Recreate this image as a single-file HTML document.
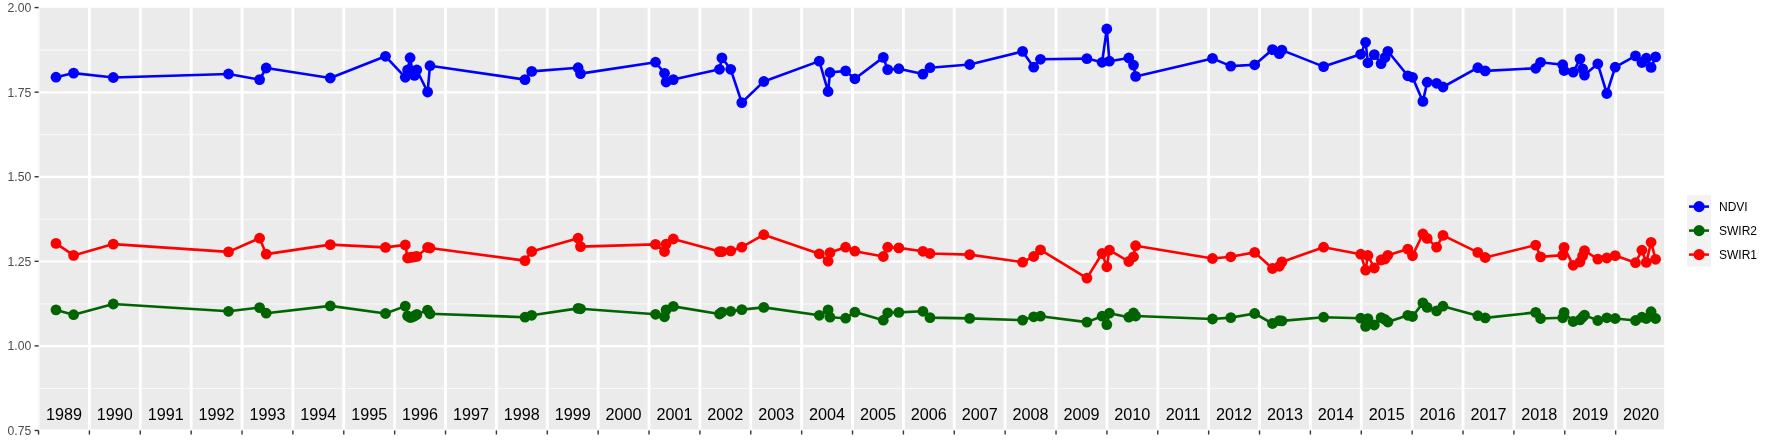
<!DOCTYPE html>
<html><head><meta charset="utf-8"><title>Chart</title>
<style>html,body{margin:0;padding:0;background:#fff;overflow:hidden;}svg{display:block;will-change:transform;}</style>
</head><body>
<svg width="1773" height="442" viewBox="0 0 1773 442"><rect x="0" y="0" width="1773" height="442" fill="#FFFFFF"/>
<rect x="37.8" y="7.8" width="2.1" height="421.80" fill="#F8F8F8"/>
<rect x="39.9" y="7.8" width="1624.20" height="421.80" fill="#EBEBEB"/>
<clipPath id="pc"><rect x="39.9" y="7.8" width="1624.20" height="421.80"/></clipPath>
<g clip-path="url(#pc)"><line x1="39.9" x2="1664.1" y1="50.16" y2="50.16" stroke="#FFFFFF" stroke-width="1.0" stroke-opacity="0.75"/><line x1="39.9" x2="1664.1" y1="134.75" y2="134.75" stroke="#FFFFFF" stroke-width="1.0" stroke-opacity="0.75"/><line x1="39.9" x2="1664.1" y1="219.34" y2="219.34" stroke="#FFFFFF" stroke-width="1.0" stroke-opacity="0.75"/><line x1="39.9" x2="1664.1" y1="303.92" y2="303.92" stroke="#FFFFFF" stroke-width="1.0" stroke-opacity="0.75"/><line x1="39.9" x2="1664.1" y1="388.51" y2="388.51" stroke="#FFFFFF" stroke-width="1.0" stroke-opacity="0.75"/><line x1="39.9" x2="1664.1" y1="92.31" y2="92.31" stroke="#FFFFFF" stroke-width="2.2"/><line x1="39.9" x2="1664.1" y1="176.89" y2="176.89" stroke="#FFFFFF" stroke-width="2.2"/><line x1="39.9" x2="1664.1" y1="261.48" y2="261.48" stroke="#FFFFFF" stroke-width="2.2"/><line x1="39.9" x2="1664.1" y1="346.06" y2="346.06" stroke="#FFFFFF" stroke-width="2.2"/><line x1="39.9" x2="1664.1" y1="430.65" y2="430.65" stroke="#FFFFFF" stroke-width="2.2"/><line x1="38.53" x2="38.53" y1="7.8" y2="429.6" stroke="#FFFFFF" stroke-width="2.9"/><line x1="89.40" x2="89.40" y1="7.8" y2="429.6" stroke="#FFFFFF" stroke-width="2.9"/><line x1="140.28" x2="140.28" y1="7.8" y2="429.6" stroke="#FFFFFF" stroke-width="2.9"/><line x1="191.15" x2="191.15" y1="7.8" y2="429.6" stroke="#FFFFFF" stroke-width="2.9"/><line x1="242.03" x2="242.03" y1="7.8" y2="429.6" stroke="#FFFFFF" stroke-width="2.9"/><line x1="292.90" x2="292.90" y1="7.8" y2="429.6" stroke="#FFFFFF" stroke-width="2.9"/><line x1="343.77" x2="343.77" y1="7.8" y2="429.6" stroke="#FFFFFF" stroke-width="2.9"/><line x1="394.65" x2="394.65" y1="7.8" y2="429.6" stroke="#FFFFFF" stroke-width="2.9"/><line x1="445.52" x2="445.52" y1="7.8" y2="429.6" stroke="#FFFFFF" stroke-width="2.9"/><line x1="496.40" x2="496.40" y1="7.8" y2="429.6" stroke="#FFFFFF" stroke-width="2.9"/><line x1="547.27" x2="547.27" y1="7.8" y2="429.6" stroke="#FFFFFF" stroke-width="2.9"/><line x1="598.15" x2="598.15" y1="7.8" y2="429.6" stroke="#FFFFFF" stroke-width="2.9"/><line x1="649.02" x2="649.02" y1="7.8" y2="429.6" stroke="#FFFFFF" stroke-width="2.9"/><line x1="699.90" x2="699.90" y1="7.8" y2="429.6" stroke="#FFFFFF" stroke-width="2.9"/><line x1="750.77" x2="750.77" y1="7.8" y2="429.6" stroke="#FFFFFF" stroke-width="2.9"/><line x1="801.65" x2="801.65" y1="7.8" y2="429.6" stroke="#FFFFFF" stroke-width="2.9"/><line x1="852.52" x2="852.52" y1="7.8" y2="429.6" stroke="#FFFFFF" stroke-width="2.9"/><line x1="903.40" x2="903.40" y1="7.8" y2="429.6" stroke="#FFFFFF" stroke-width="2.9"/><line x1="954.27" x2="954.27" y1="7.8" y2="429.6" stroke="#FFFFFF" stroke-width="2.9"/><line x1="1005.15" x2="1005.15" y1="7.8" y2="429.6" stroke="#FFFFFF" stroke-width="2.9"/><line x1="1056.03" x2="1056.03" y1="7.8" y2="429.6" stroke="#FFFFFF" stroke-width="2.9"/><line x1="1106.90" x2="1106.90" y1="7.8" y2="429.6" stroke="#FFFFFF" stroke-width="2.9"/><line x1="1157.78" x2="1157.78" y1="7.8" y2="429.6" stroke="#FFFFFF" stroke-width="2.9"/><line x1="1208.65" x2="1208.65" y1="7.8" y2="429.6" stroke="#FFFFFF" stroke-width="2.9"/><line x1="1259.53" x2="1259.53" y1="7.8" y2="429.6" stroke="#FFFFFF" stroke-width="2.9"/><line x1="1310.40" x2="1310.40" y1="7.8" y2="429.6" stroke="#FFFFFF" stroke-width="2.9"/><line x1="1361.28" x2="1361.28" y1="7.8" y2="429.6" stroke="#FFFFFF" stroke-width="2.9"/><line x1="1412.15" x2="1412.15" y1="7.8" y2="429.6" stroke="#FFFFFF" stroke-width="2.9"/><line x1="1463.03" x2="1463.03" y1="7.8" y2="429.6" stroke="#FFFFFF" stroke-width="2.9"/><line x1="1513.90" x2="1513.90" y1="7.8" y2="429.6" stroke="#FFFFFF" stroke-width="2.9"/><line x1="1564.78" x2="1564.78" y1="7.8" y2="429.6" stroke="#FFFFFF" stroke-width="2.9"/><line x1="1615.65" x2="1615.65" y1="7.8" y2="429.6" stroke="#FFFFFF" stroke-width="2.9"/></g>
<g font-family="Liberation Sans, Arial, sans-serif" font-size="16.2" fill="#000000"><text x="63.96" y="420.2" text-anchor="middle">1989</text><text x="114.84" y="420.2" text-anchor="middle">1990</text><text x="165.71" y="420.2" text-anchor="middle">1991</text><text x="216.59" y="420.2" text-anchor="middle">1992</text><text x="267.46" y="420.2" text-anchor="middle">1993</text><text x="318.34" y="420.2" text-anchor="middle">1994</text><text x="369.21" y="420.2" text-anchor="middle">1995</text><text x="420.09" y="420.2" text-anchor="middle">1996</text><text x="470.96" y="420.2" text-anchor="middle">1997</text><text x="521.84" y="420.2" text-anchor="middle">1998</text><text x="572.71" y="420.2" text-anchor="middle">1999</text><text x="623.59" y="420.2" text-anchor="middle">2000</text><text x="674.46" y="420.2" text-anchor="middle">2001</text><text x="725.34" y="420.2" text-anchor="middle">2002</text><text x="776.21" y="420.2" text-anchor="middle">2003</text><text x="827.09" y="420.2" text-anchor="middle">2004</text><text x="877.96" y="420.2" text-anchor="middle">2005</text><text x="928.84" y="420.2" text-anchor="middle">2006</text><text x="979.71" y="420.2" text-anchor="middle">2007</text><text x="1030.59" y="420.2" text-anchor="middle">2008</text><text x="1081.46" y="420.2" text-anchor="middle">2009</text><text x="1132.34" y="420.2" text-anchor="middle">2010</text><text x="1183.21" y="420.2" text-anchor="middle">2011</text><text x="1234.09" y="420.2" text-anchor="middle">2012</text><text x="1284.96" y="420.2" text-anchor="middle">2013</text><text x="1335.84" y="420.2" text-anchor="middle">2014</text><text x="1386.71" y="420.2" text-anchor="middle">2015</text><text x="1437.59" y="420.2" text-anchor="middle">2016</text><text x="1488.46" y="420.2" text-anchor="middle">2017</text><text x="1539.34" y="420.2" text-anchor="middle">2018</text><text x="1590.21" y="420.2" text-anchor="middle">2019</text><text x="1641.09" y="420.2" text-anchor="middle">2020</text></g>
<polyline points="56.0,309.9 73.6,314.7 113.3,304.0 228.5,311.3 259.6,307.6 266.2,313.2 330.3,305.9 385.5,313.5 405.3,306.1 407.6,316.0 410.1,317.5 412.3,317.0 414.5,316.0 416.8,314.4 427.6,310.1 430.0,313.8 525.0,317.2 531.7,315.3 578.1,308.4 580.5,308.8 655.5,314.3 664.5,316.8 666.1,309.9 673.3,306.4 719.5,314.0 721.9,312.1 730.7,311.3 741.8,309.6 763.8,307.4 819.3,315.3 828.1,309.9 830.0,317.2 845.6,318.2 854.9,312.1 883.3,320.2 887.7,312.8 898.8,312.4 922.9,311.3 930.0,317.6 969.7,318.4 1022.6,320.1 1033.7,316.8 1040.5,316.2 1086.9,322.1 1102.1,316.2 1106.8,324.6 1109.4,313.2 1128.8,317.2 1133.5,313.0 1135.6,316.0 1212.5,319.0 1230.8,317.6 1254.7,313.5 1272.5,323.5 1279.3,320.6 1281.9,320.9 1323.6,317.2 1360.7,318.2 1365.6,326.4 1367.9,318.6 1374.3,325.0 1381.1,317.6 1385.0,319.5 1387.9,322.0 1407.8,315.3 1412.5,316.5 1422.9,302.9 1427.2,307.4 1436.6,310.9 1443.0,306.2 1477.8,315.7 1485.2,317.9 1535.7,312.4 1540.6,318.5 1562.7,317.8 1564.1,312.4 1573.2,321.5 1580.0,319.9 1582.6,317.2 1584.5,315.1 1597.8,320.5 1606.8,317.8 1615.2,318.5 1635.5,320.5 1641.9,317.2 1646.3,318.5 1651.1,311.7 1655.6,318.5" fill="none" stroke="#006400" stroke-width="2.6" stroke-linejoin="round" stroke-linecap="butt"/><circle cx="56.0" cy="309.9" r="5.4" fill="#006400"/><circle cx="73.6" cy="314.7" r="5.4" fill="#006400"/><circle cx="113.3" cy="304.0" r="5.4" fill="#006400"/><circle cx="228.5" cy="311.3" r="5.4" fill="#006400"/><circle cx="259.6" cy="307.6" r="5.4" fill="#006400"/><circle cx="266.2" cy="313.2" r="5.4" fill="#006400"/><circle cx="330.3" cy="305.9" r="5.4" fill="#006400"/><circle cx="385.5" cy="313.5" r="5.4" fill="#006400"/><circle cx="405.3" cy="306.1" r="5.4" fill="#006400"/><circle cx="407.6" cy="316.0" r="5.4" fill="#006400"/><circle cx="410.1" cy="317.5" r="5.4" fill="#006400"/><circle cx="412.3" cy="317.0" r="5.4" fill="#006400"/><circle cx="414.5" cy="316.0" r="5.4" fill="#006400"/><circle cx="416.8" cy="314.4" r="5.4" fill="#006400"/><circle cx="427.6" cy="310.1" r="5.4" fill="#006400"/><circle cx="430.0" cy="313.8" r="5.4" fill="#006400"/><circle cx="525.0" cy="317.2" r="5.4" fill="#006400"/><circle cx="531.7" cy="315.3" r="5.4" fill="#006400"/><circle cx="578.1" cy="308.4" r="5.4" fill="#006400"/><circle cx="580.5" cy="308.8" r="5.4" fill="#006400"/><circle cx="655.5" cy="314.3" r="5.4" fill="#006400"/><circle cx="664.5" cy="316.8" r="5.4" fill="#006400"/><circle cx="666.1" cy="309.9" r="5.4" fill="#006400"/><circle cx="673.3" cy="306.4" r="5.4" fill="#006400"/><circle cx="719.5" cy="314.0" r="5.4" fill="#006400"/><circle cx="721.9" cy="312.1" r="5.4" fill="#006400"/><circle cx="730.7" cy="311.3" r="5.4" fill="#006400"/><circle cx="741.8" cy="309.6" r="5.4" fill="#006400"/><circle cx="763.8" cy="307.4" r="5.4" fill="#006400"/><circle cx="819.3" cy="315.3" r="5.4" fill="#006400"/><circle cx="828.1" cy="309.9" r="5.4" fill="#006400"/><circle cx="830.0" cy="317.2" r="5.4" fill="#006400"/><circle cx="845.6" cy="318.2" r="5.4" fill="#006400"/><circle cx="854.9" cy="312.1" r="5.4" fill="#006400"/><circle cx="883.3" cy="320.2" r="5.4" fill="#006400"/><circle cx="887.7" cy="312.8" r="5.4" fill="#006400"/><circle cx="898.8" cy="312.4" r="5.4" fill="#006400"/><circle cx="922.9" cy="311.3" r="5.4" fill="#006400"/><circle cx="930.0" cy="317.6" r="5.4" fill="#006400"/><circle cx="969.7" cy="318.4" r="5.4" fill="#006400"/><circle cx="1022.6" cy="320.1" r="5.4" fill="#006400"/><circle cx="1033.7" cy="316.8" r="5.4" fill="#006400"/><circle cx="1040.5" cy="316.2" r="5.4" fill="#006400"/><circle cx="1086.9" cy="322.1" r="5.4" fill="#006400"/><circle cx="1102.1" cy="316.2" r="5.4" fill="#006400"/><circle cx="1106.8" cy="324.6" r="5.4" fill="#006400"/><circle cx="1109.4" cy="313.2" r="5.4" fill="#006400"/><circle cx="1128.8" cy="317.2" r="5.4" fill="#006400"/><circle cx="1133.5" cy="313.0" r="5.4" fill="#006400"/><circle cx="1135.6" cy="316.0" r="5.4" fill="#006400"/><circle cx="1212.5" cy="319.0" r="5.4" fill="#006400"/><circle cx="1230.8" cy="317.6" r="5.4" fill="#006400"/><circle cx="1254.7" cy="313.5" r="5.4" fill="#006400"/><circle cx="1272.5" cy="323.5" r="5.4" fill="#006400"/><circle cx="1279.3" cy="320.6" r="5.4" fill="#006400"/><circle cx="1281.9" cy="320.9" r="5.4" fill="#006400"/><circle cx="1323.6" cy="317.2" r="5.4" fill="#006400"/><circle cx="1360.7" cy="318.2" r="5.4" fill="#006400"/><circle cx="1365.6" cy="326.4" r="5.4" fill="#006400"/><circle cx="1367.9" cy="318.6" r="5.4" fill="#006400"/><circle cx="1374.3" cy="325.0" r="5.4" fill="#006400"/><circle cx="1381.1" cy="317.6" r="5.4" fill="#006400"/><circle cx="1385.0" cy="319.5" r="5.4" fill="#006400"/><circle cx="1387.9" cy="322.0" r="5.4" fill="#006400"/><circle cx="1407.8" cy="315.3" r="5.4" fill="#006400"/><circle cx="1412.5" cy="316.5" r="5.4" fill="#006400"/><circle cx="1422.9" cy="302.9" r="5.4" fill="#006400"/><circle cx="1427.2" cy="307.4" r="5.4" fill="#006400"/><circle cx="1436.6" cy="310.9" r="5.4" fill="#006400"/><circle cx="1443.0" cy="306.2" r="5.4" fill="#006400"/><circle cx="1477.8" cy="315.7" r="5.4" fill="#006400"/><circle cx="1485.2" cy="317.9" r="5.4" fill="#006400"/><circle cx="1535.7" cy="312.4" r="5.4" fill="#006400"/><circle cx="1540.6" cy="318.5" r="5.4" fill="#006400"/><circle cx="1562.7" cy="317.8" r="5.4" fill="#006400"/><circle cx="1564.1" cy="312.4" r="5.4" fill="#006400"/><circle cx="1573.2" cy="321.5" r="5.4" fill="#006400"/><circle cx="1580.0" cy="319.9" r="5.4" fill="#006400"/><circle cx="1582.6" cy="317.2" r="5.4" fill="#006400"/><circle cx="1584.5" cy="315.1" r="5.4" fill="#006400"/><circle cx="1597.8" cy="320.5" r="5.4" fill="#006400"/><circle cx="1606.8" cy="317.8" r="5.4" fill="#006400"/><circle cx="1615.2" cy="318.5" r="5.4" fill="#006400"/><circle cx="1635.5" cy="320.5" r="5.4" fill="#006400"/><circle cx="1641.9" cy="317.2" r="5.4" fill="#006400"/><circle cx="1646.3" cy="318.5" r="5.4" fill="#006400"/><circle cx="1651.1" cy="311.7" r="5.4" fill="#006400"/><circle cx="1655.6" cy="318.5" r="5.4" fill="#006400"/>
<polyline points="56.0,243.4 73.6,255.4 113.3,244.1 228.5,251.9 259.6,238.2 266.2,254.1 330.3,244.6 385.5,247.4 405.3,244.9 407.6,258.0 410.1,257.5 412.3,257.2 414.5,256.8 416.8,256.4 427.6,247.5 430.0,248.0 525.0,260.6 531.7,251.5 578.1,238.2 580.5,246.6 655.5,244.4 664.5,251.5 666.1,244.1 673.3,239.0 719.5,251.6 721.9,251.6 730.7,250.9 741.8,247.2 763.8,234.7 819.3,253.8 828.1,261.2 830.0,252.6 845.6,247.2 854.9,251.2 883.3,256.5 887.7,247.2 898.8,247.9 922.9,251.3 930.0,253.5 969.7,254.6 1022.6,262.2 1033.7,256.5 1040.5,249.9 1086.9,278.1 1102.1,253.5 1106.8,266.8 1109.4,250.1 1128.8,261.5 1133.5,256.8 1135.6,245.7 1212.5,258.5 1230.8,256.8 1254.7,252.4 1272.5,268.5 1279.3,266.3 1281.9,261.9 1323.6,247.2 1360.7,254.2 1365.6,270.1 1367.9,255.5 1374.3,268.0 1381.1,260.0 1385.0,259.0 1387.9,255.3 1407.8,249.1 1412.5,255.6 1422.9,234.0 1427.2,238.4 1436.6,247.2 1443.0,235.4 1477.8,252.4 1485.2,257.5 1535.7,245.1 1540.6,256.9 1562.7,255.1 1564.1,247.4 1573.2,265.3 1580.0,262.0 1582.6,255.9 1584.5,250.6 1597.8,259.1 1606.8,258.0 1615.2,255.6 1635.5,262.7 1641.9,250.2 1646.3,262.4 1651.1,242.3 1655.6,259.3" fill="none" stroke="#FF0000" stroke-width="2.6" stroke-linejoin="round" stroke-linecap="butt"/><circle cx="56.0" cy="243.4" r="5.4" fill="#FF0000"/><circle cx="73.6" cy="255.4" r="5.4" fill="#FF0000"/><circle cx="113.3" cy="244.1" r="5.4" fill="#FF0000"/><circle cx="228.5" cy="251.9" r="5.4" fill="#FF0000"/><circle cx="259.6" cy="238.2" r="5.4" fill="#FF0000"/><circle cx="266.2" cy="254.1" r="5.4" fill="#FF0000"/><circle cx="330.3" cy="244.6" r="5.4" fill="#FF0000"/><circle cx="385.5" cy="247.4" r="5.4" fill="#FF0000"/><circle cx="405.3" cy="244.9" r="5.4" fill="#FF0000"/><circle cx="407.6" cy="258.0" r="5.4" fill="#FF0000"/><circle cx="410.1" cy="257.5" r="5.4" fill="#FF0000"/><circle cx="412.3" cy="257.2" r="5.4" fill="#FF0000"/><circle cx="414.5" cy="256.8" r="5.4" fill="#FF0000"/><circle cx="416.8" cy="256.4" r="5.4" fill="#FF0000"/><circle cx="427.6" cy="247.5" r="5.4" fill="#FF0000"/><circle cx="430.0" cy="248.0" r="5.4" fill="#FF0000"/><circle cx="525.0" cy="260.6" r="5.4" fill="#FF0000"/><circle cx="531.7" cy="251.5" r="5.4" fill="#FF0000"/><circle cx="578.1" cy="238.2" r="5.4" fill="#FF0000"/><circle cx="580.5" cy="246.6" r="5.4" fill="#FF0000"/><circle cx="655.5" cy="244.4" r="5.4" fill="#FF0000"/><circle cx="664.5" cy="251.5" r="5.4" fill="#FF0000"/><circle cx="666.1" cy="244.1" r="5.4" fill="#FF0000"/><circle cx="673.3" cy="239.0" r="5.4" fill="#FF0000"/><circle cx="719.5" cy="251.6" r="5.4" fill="#FF0000"/><circle cx="721.9" cy="251.6" r="5.4" fill="#FF0000"/><circle cx="730.7" cy="250.9" r="5.4" fill="#FF0000"/><circle cx="741.8" cy="247.2" r="5.4" fill="#FF0000"/><circle cx="763.8" cy="234.7" r="5.4" fill="#FF0000"/><circle cx="819.3" cy="253.8" r="5.4" fill="#FF0000"/><circle cx="828.1" cy="261.2" r="5.4" fill="#FF0000"/><circle cx="830.0" cy="252.6" r="5.4" fill="#FF0000"/><circle cx="845.6" cy="247.2" r="5.4" fill="#FF0000"/><circle cx="854.9" cy="251.2" r="5.4" fill="#FF0000"/><circle cx="883.3" cy="256.5" r="5.4" fill="#FF0000"/><circle cx="887.7" cy="247.2" r="5.4" fill="#FF0000"/><circle cx="898.8" cy="247.9" r="5.4" fill="#FF0000"/><circle cx="922.9" cy="251.3" r="5.4" fill="#FF0000"/><circle cx="930.0" cy="253.5" r="5.4" fill="#FF0000"/><circle cx="969.7" cy="254.6" r="5.4" fill="#FF0000"/><circle cx="1022.6" cy="262.2" r="5.4" fill="#FF0000"/><circle cx="1033.7" cy="256.5" r="5.4" fill="#FF0000"/><circle cx="1040.5" cy="249.9" r="5.4" fill="#FF0000"/><circle cx="1086.9" cy="278.1" r="5.4" fill="#FF0000"/><circle cx="1102.1" cy="253.5" r="5.4" fill="#FF0000"/><circle cx="1106.8" cy="266.8" r="5.4" fill="#FF0000"/><circle cx="1109.4" cy="250.1" r="5.4" fill="#FF0000"/><circle cx="1128.8" cy="261.5" r="5.4" fill="#FF0000"/><circle cx="1133.5" cy="256.8" r="5.4" fill="#FF0000"/><circle cx="1135.6" cy="245.7" r="5.4" fill="#FF0000"/><circle cx="1212.5" cy="258.5" r="5.4" fill="#FF0000"/><circle cx="1230.8" cy="256.8" r="5.4" fill="#FF0000"/><circle cx="1254.7" cy="252.4" r="5.4" fill="#FF0000"/><circle cx="1272.5" cy="268.5" r="5.4" fill="#FF0000"/><circle cx="1279.3" cy="266.3" r="5.4" fill="#FF0000"/><circle cx="1281.9" cy="261.9" r="5.4" fill="#FF0000"/><circle cx="1323.6" cy="247.2" r="5.4" fill="#FF0000"/><circle cx="1360.7" cy="254.2" r="5.4" fill="#FF0000"/><circle cx="1365.6" cy="270.1" r="5.4" fill="#FF0000"/><circle cx="1367.9" cy="255.5" r="5.4" fill="#FF0000"/><circle cx="1374.3" cy="268.0" r="5.4" fill="#FF0000"/><circle cx="1381.1" cy="260.0" r="5.4" fill="#FF0000"/><circle cx="1385.0" cy="259.0" r="5.4" fill="#FF0000"/><circle cx="1387.9" cy="255.3" r="5.4" fill="#FF0000"/><circle cx="1407.8" cy="249.1" r="5.4" fill="#FF0000"/><circle cx="1412.5" cy="255.6" r="5.4" fill="#FF0000"/><circle cx="1422.9" cy="234.0" r="5.4" fill="#FF0000"/><circle cx="1427.2" cy="238.4" r="5.4" fill="#FF0000"/><circle cx="1436.6" cy="247.2" r="5.4" fill="#FF0000"/><circle cx="1443.0" cy="235.4" r="5.4" fill="#FF0000"/><circle cx="1477.8" cy="252.4" r="5.4" fill="#FF0000"/><circle cx="1485.2" cy="257.5" r="5.4" fill="#FF0000"/><circle cx="1535.7" cy="245.1" r="5.4" fill="#FF0000"/><circle cx="1540.6" cy="256.9" r="5.4" fill="#FF0000"/><circle cx="1562.7" cy="255.1" r="5.4" fill="#FF0000"/><circle cx="1564.1" cy="247.4" r="5.4" fill="#FF0000"/><circle cx="1573.2" cy="265.3" r="5.4" fill="#FF0000"/><circle cx="1580.0" cy="262.0" r="5.4" fill="#FF0000"/><circle cx="1582.6" cy="255.9" r="5.4" fill="#FF0000"/><circle cx="1584.5" cy="250.6" r="5.4" fill="#FF0000"/><circle cx="1597.8" cy="259.1" r="5.4" fill="#FF0000"/><circle cx="1606.8" cy="258.0" r="5.4" fill="#FF0000"/><circle cx="1615.2" cy="255.6" r="5.4" fill="#FF0000"/><circle cx="1635.5" cy="262.7" r="5.4" fill="#FF0000"/><circle cx="1641.9" cy="250.2" r="5.4" fill="#FF0000"/><circle cx="1646.3" cy="262.4" r="5.4" fill="#FF0000"/><circle cx="1651.1" cy="242.3" r="5.4" fill="#FF0000"/><circle cx="1655.6" cy="259.3" r="5.4" fill="#FF0000"/>
<polyline points="56.0,77.2 73.6,73.1 113.3,77.5 228.5,74.0 259.6,79.6 266.2,68.0 330.3,78.0 385.5,56.3 405.3,77.3 407.6,70.0 410.1,57.7 412.3,70.8 414.5,75.4 416.8,70.0 427.6,92.0 430.0,65.7 525.0,79.6 531.7,71.4 578.1,67.7 580.5,73.6 655.5,62.2 664.5,73.3 666.1,82.0 673.3,79.6 719.5,69.3 721.9,57.9 730.7,69.3 741.8,102.6 763.8,81.5 819.3,61.1 828.1,91.5 830.0,72.5 845.6,70.9 854.9,78.8 883.3,57.4 887.7,69.6 898.8,68.7 922.9,74.1 930.0,67.7 969.7,64.5 1022.6,51.4 1033.7,67.2 1040.5,59.3 1086.9,58.6 1102.1,62.3 1106.8,29.0 1109.4,61.2 1128.8,58.0 1133.5,65.1 1135.6,76.4 1212.5,58.4 1230.8,66.1 1254.7,64.8 1272.5,49.6 1279.3,53.7 1281.9,50.1 1323.6,66.6 1360.7,54.3 1365.6,42.3 1367.9,62.8 1374.3,54.6 1381.1,63.6 1385.0,57.5 1387.9,51.3 1407.8,75.8 1412.5,77.3 1422.9,101.4 1427.2,82.2 1436.6,83.3 1443.0,87.0 1477.8,67.7 1485.2,70.9 1535.7,68.3 1540.6,62.3 1562.7,64.7 1564.1,70.5 1573.2,72.2 1580.0,59.0 1582.6,68.8 1584.5,75.1 1597.8,63.8 1606.8,93.5 1615.2,67.2 1635.5,55.9 1641.9,62.5 1646.3,58.2 1651.1,67.4 1655.6,56.9" fill="none" stroke="#0000FF" stroke-width="2.6" stroke-linejoin="round" stroke-linecap="butt"/><circle cx="56.0" cy="77.2" r="5.4" fill="#0000FF"/><circle cx="73.6" cy="73.1" r="5.4" fill="#0000FF"/><circle cx="113.3" cy="77.5" r="5.4" fill="#0000FF"/><circle cx="228.5" cy="74.0" r="5.4" fill="#0000FF"/><circle cx="259.6" cy="79.6" r="5.4" fill="#0000FF"/><circle cx="266.2" cy="68.0" r="5.4" fill="#0000FF"/><circle cx="330.3" cy="78.0" r="5.4" fill="#0000FF"/><circle cx="385.5" cy="56.3" r="5.4" fill="#0000FF"/><circle cx="405.3" cy="77.3" r="5.4" fill="#0000FF"/><circle cx="407.6" cy="70.0" r="5.4" fill="#0000FF"/><circle cx="410.1" cy="57.7" r="5.4" fill="#0000FF"/><circle cx="412.3" cy="70.8" r="5.4" fill="#0000FF"/><circle cx="414.5" cy="75.4" r="5.4" fill="#0000FF"/><circle cx="416.8" cy="70.0" r="5.4" fill="#0000FF"/><circle cx="427.6" cy="92.0" r="5.4" fill="#0000FF"/><circle cx="430.0" cy="65.7" r="5.4" fill="#0000FF"/><circle cx="525.0" cy="79.6" r="5.4" fill="#0000FF"/><circle cx="531.7" cy="71.4" r="5.4" fill="#0000FF"/><circle cx="578.1" cy="67.7" r="5.4" fill="#0000FF"/><circle cx="580.5" cy="73.6" r="5.4" fill="#0000FF"/><circle cx="655.5" cy="62.2" r="5.4" fill="#0000FF"/><circle cx="664.5" cy="73.3" r="5.4" fill="#0000FF"/><circle cx="666.1" cy="82.0" r="5.4" fill="#0000FF"/><circle cx="673.3" cy="79.6" r="5.4" fill="#0000FF"/><circle cx="719.5" cy="69.3" r="5.4" fill="#0000FF"/><circle cx="721.9" cy="57.9" r="5.4" fill="#0000FF"/><circle cx="730.7" cy="69.3" r="5.4" fill="#0000FF"/><circle cx="741.8" cy="102.6" r="5.4" fill="#0000FF"/><circle cx="763.8" cy="81.5" r="5.4" fill="#0000FF"/><circle cx="819.3" cy="61.1" r="5.4" fill="#0000FF"/><circle cx="828.1" cy="91.5" r="5.4" fill="#0000FF"/><circle cx="830.0" cy="72.5" r="5.4" fill="#0000FF"/><circle cx="845.6" cy="70.9" r="5.4" fill="#0000FF"/><circle cx="854.9" cy="78.8" r="5.4" fill="#0000FF"/><circle cx="883.3" cy="57.4" r="5.4" fill="#0000FF"/><circle cx="887.7" cy="69.6" r="5.4" fill="#0000FF"/><circle cx="898.8" cy="68.7" r="5.4" fill="#0000FF"/><circle cx="922.9" cy="74.1" r="5.4" fill="#0000FF"/><circle cx="930.0" cy="67.7" r="5.4" fill="#0000FF"/><circle cx="969.7" cy="64.5" r="5.4" fill="#0000FF"/><circle cx="1022.6" cy="51.4" r="5.4" fill="#0000FF"/><circle cx="1033.7" cy="67.2" r="5.4" fill="#0000FF"/><circle cx="1040.5" cy="59.3" r="5.4" fill="#0000FF"/><circle cx="1086.9" cy="58.6" r="5.4" fill="#0000FF"/><circle cx="1102.1" cy="62.3" r="5.4" fill="#0000FF"/><circle cx="1106.8" cy="29.0" r="5.4" fill="#0000FF"/><circle cx="1109.4" cy="61.2" r="5.4" fill="#0000FF"/><circle cx="1128.8" cy="58.0" r="5.4" fill="#0000FF"/><circle cx="1133.5" cy="65.1" r="5.4" fill="#0000FF"/><circle cx="1135.6" cy="76.4" r="5.4" fill="#0000FF"/><circle cx="1212.5" cy="58.4" r="5.4" fill="#0000FF"/><circle cx="1230.8" cy="66.1" r="5.4" fill="#0000FF"/><circle cx="1254.7" cy="64.8" r="5.4" fill="#0000FF"/><circle cx="1272.5" cy="49.6" r="5.4" fill="#0000FF"/><circle cx="1279.3" cy="53.7" r="5.4" fill="#0000FF"/><circle cx="1281.9" cy="50.1" r="5.4" fill="#0000FF"/><circle cx="1323.6" cy="66.6" r="5.4" fill="#0000FF"/><circle cx="1360.7" cy="54.3" r="5.4" fill="#0000FF"/><circle cx="1365.6" cy="42.3" r="5.4" fill="#0000FF"/><circle cx="1367.9" cy="62.8" r="5.4" fill="#0000FF"/><circle cx="1374.3" cy="54.6" r="5.4" fill="#0000FF"/><circle cx="1381.1" cy="63.6" r="5.4" fill="#0000FF"/><circle cx="1385.0" cy="57.5" r="5.4" fill="#0000FF"/><circle cx="1387.9" cy="51.3" r="5.4" fill="#0000FF"/><circle cx="1407.8" cy="75.8" r="5.4" fill="#0000FF"/><circle cx="1412.5" cy="77.3" r="5.4" fill="#0000FF"/><circle cx="1422.9" cy="101.4" r="5.4" fill="#0000FF"/><circle cx="1427.2" cy="82.2" r="5.4" fill="#0000FF"/><circle cx="1436.6" cy="83.3" r="5.4" fill="#0000FF"/><circle cx="1443.0" cy="87.0" r="5.4" fill="#0000FF"/><circle cx="1477.8" cy="67.7" r="5.4" fill="#0000FF"/><circle cx="1485.2" cy="70.9" r="5.4" fill="#0000FF"/><circle cx="1535.7" cy="68.3" r="5.4" fill="#0000FF"/><circle cx="1540.6" cy="62.3" r="5.4" fill="#0000FF"/><circle cx="1562.7" cy="64.7" r="5.4" fill="#0000FF"/><circle cx="1564.1" cy="70.5" r="5.4" fill="#0000FF"/><circle cx="1573.2" cy="72.2" r="5.4" fill="#0000FF"/><circle cx="1580.0" cy="59.0" r="5.4" fill="#0000FF"/><circle cx="1582.6" cy="68.8" r="5.4" fill="#0000FF"/><circle cx="1584.5" cy="75.1" r="5.4" fill="#0000FF"/><circle cx="1597.8" cy="63.8" r="5.4" fill="#0000FF"/><circle cx="1606.8" cy="93.5" r="5.4" fill="#0000FF"/><circle cx="1615.2" cy="67.2" r="5.4" fill="#0000FF"/><circle cx="1635.5" cy="55.9" r="5.4" fill="#0000FF"/><circle cx="1641.9" cy="62.5" r="5.4" fill="#0000FF"/><circle cx="1646.3" cy="58.2" r="5.4" fill="#0000FF"/><circle cx="1651.1" cy="67.4" r="5.4" fill="#0000FF"/><circle cx="1655.6" cy="56.9" r="5.4" fill="#0000FF"/>
<g font-family="Liberation Sans, Arial, sans-serif" font-size="12.2" fill="#4D4D4D"><line x1="34.6" x2="38.6" y1="7.57" y2="7.57" stroke="#333333" stroke-width="1.4"/><text x="31.3" y="12.07" text-anchor="end">2.00</text><line x1="34.6" x2="38.6" y1="92.16" y2="92.16" stroke="#333333" stroke-width="1.4"/><text x="31.3" y="96.66" text-anchor="end">1.75</text><line x1="34.6" x2="38.6" y1="176.74" y2="176.74" stroke="#333333" stroke-width="1.4"/><text x="31.3" y="181.24" text-anchor="end">1.50</text><line x1="34.6" x2="38.6" y1="261.33" y2="261.33" stroke="#333333" stroke-width="1.4"/><text x="31.3" y="265.83" text-anchor="end">1.25</text><line x1="34.6" x2="38.6" y1="345.91" y2="345.91" stroke="#333333" stroke-width="1.4"/><text x="31.3" y="350.41" text-anchor="end">1.00</text><line x1="34.6" x2="38.6" y1="430.50" y2="430.50" stroke="#333333" stroke-width="1.4"/><text x="31.3" y="435.00" text-anchor="end">0.75</text></g>
<line x1="38.53" x2="38.53" y1="430.5" y2="434.5" stroke="#333333" stroke-width="1.4"/><line x1="89.40" x2="89.40" y1="430.5" y2="434.5" stroke="#333333" stroke-width="1.4"/><line x1="140.28" x2="140.28" y1="430.5" y2="434.5" stroke="#333333" stroke-width="1.4"/><line x1="191.15" x2="191.15" y1="430.5" y2="434.5" stroke="#333333" stroke-width="1.4"/><line x1="242.03" x2="242.03" y1="430.5" y2="434.5" stroke="#333333" stroke-width="1.4"/><line x1="292.90" x2="292.90" y1="430.5" y2="434.5" stroke="#333333" stroke-width="1.4"/><line x1="343.77" x2="343.77" y1="430.5" y2="434.5" stroke="#333333" stroke-width="1.4"/><line x1="394.65" x2="394.65" y1="430.5" y2="434.5" stroke="#333333" stroke-width="1.4"/><line x1="445.52" x2="445.52" y1="430.5" y2="434.5" stroke="#333333" stroke-width="1.4"/><line x1="496.40" x2="496.40" y1="430.5" y2="434.5" stroke="#333333" stroke-width="1.4"/><line x1="547.27" x2="547.27" y1="430.5" y2="434.5" stroke="#333333" stroke-width="1.4"/><line x1="598.15" x2="598.15" y1="430.5" y2="434.5" stroke="#333333" stroke-width="1.4"/><line x1="649.02" x2="649.02" y1="430.5" y2="434.5" stroke="#333333" stroke-width="1.4"/><line x1="699.90" x2="699.90" y1="430.5" y2="434.5" stroke="#333333" stroke-width="1.4"/><line x1="750.77" x2="750.77" y1="430.5" y2="434.5" stroke="#333333" stroke-width="1.4"/><line x1="801.65" x2="801.65" y1="430.5" y2="434.5" stroke="#333333" stroke-width="1.4"/><line x1="852.52" x2="852.52" y1="430.5" y2="434.5" stroke="#333333" stroke-width="1.4"/><line x1="903.40" x2="903.40" y1="430.5" y2="434.5" stroke="#333333" stroke-width="1.4"/><line x1="954.27" x2="954.27" y1="430.5" y2="434.5" stroke="#333333" stroke-width="1.4"/><line x1="1005.15" x2="1005.15" y1="430.5" y2="434.5" stroke="#333333" stroke-width="1.4"/><line x1="1056.03" x2="1056.03" y1="430.5" y2="434.5" stroke="#333333" stroke-width="1.4"/><line x1="1106.90" x2="1106.90" y1="430.5" y2="434.5" stroke="#333333" stroke-width="1.4"/><line x1="1157.78" x2="1157.78" y1="430.5" y2="434.5" stroke="#333333" stroke-width="1.4"/><line x1="1208.65" x2="1208.65" y1="430.5" y2="434.5" stroke="#333333" stroke-width="1.4"/><line x1="1259.53" x2="1259.53" y1="430.5" y2="434.5" stroke="#333333" stroke-width="1.4"/><line x1="1310.40" x2="1310.40" y1="430.5" y2="434.5" stroke="#333333" stroke-width="1.4"/><line x1="1361.28" x2="1361.28" y1="430.5" y2="434.5" stroke="#333333" stroke-width="1.4"/><line x1="1412.15" x2="1412.15" y1="430.5" y2="434.5" stroke="#333333" stroke-width="1.4"/><line x1="1463.03" x2="1463.03" y1="430.5" y2="434.5" stroke="#333333" stroke-width="1.4"/><line x1="1513.90" x2="1513.90" y1="430.5" y2="434.5" stroke="#333333" stroke-width="1.4"/><line x1="1564.78" x2="1564.78" y1="430.5" y2="434.5" stroke="#333333" stroke-width="1.4"/><line x1="1615.65" x2="1615.65" y1="430.5" y2="434.5" stroke="#333333" stroke-width="1.4"/>
<rect x="1687.1" y="195.0" width="23.85" height="71.7" fill="#F2F2F2"/><line x1="1689.0" x2="1709.0" y1="206.60" y2="206.60" stroke="#0000FF" stroke-width="2.5"/><circle cx="1699.1" cy="206.60" r="5.6" fill="#0000FF"/><text x="1719.0" y="210.90" font-family="Liberation Sans, Arial, sans-serif" font-size="12" fill="#000000">NDVI</text><line x1="1689.0" x2="1709.0" y1="230.60" y2="230.60" stroke="#006400" stroke-width="2.5"/><circle cx="1699.1" cy="230.60" r="5.6" fill="#006400"/><text x="1719.0" y="234.90" font-family="Liberation Sans, Arial, sans-serif" font-size="12" fill="#000000">SWIR2</text><line x1="1689.0" x2="1709.0" y1="254.60" y2="254.60" stroke="#FF0000" stroke-width="2.5"/><circle cx="1699.1" cy="254.60" r="5.6" fill="#FF0000"/><text x="1719.0" y="258.90" font-family="Liberation Sans, Arial, sans-serif" font-size="12" fill="#000000">SWIR1</text></svg>
</body></html>
